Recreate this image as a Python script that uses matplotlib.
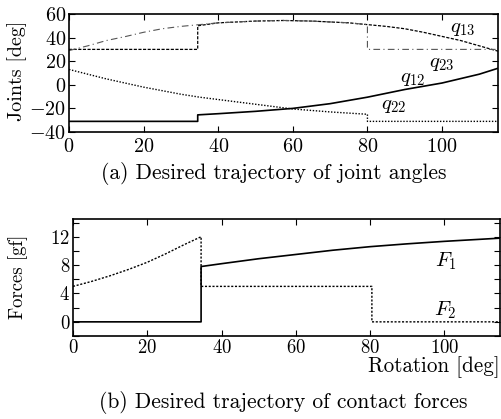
import numpy as np
import matplotlib
matplotlib.use('Agg')
import matplotlib.pyplot as plt
from matplotlib.ticker import MultipleLocator

plt.rcParams['font.family'] = 'cmr10'
plt.rcParams['mathtext.fontset'] = 'cm'
plt.rcParams['axes.formatter.use_mathtext'] = True

# joint angles [deg] vs rotation [deg]
q12_x = [0, 34.5, 34.5, 40, 50, 60, 70, 80, 90, 100, 110, 115]
q12_y = [-31, -31, -25.5, -24.5, -22.5, -20, -16, -10.5, -4, 1.5, 9, 14]
q22_x = [0, 5, 10, 15, 20, 25, 30, 35, 40, 50, 60, 70, 80, 80, 115]
q22_y = [13, 9, 5, 1.5, -2, -5, -8, -10.5, -12.5, -16.5, -20.5, -23, -25, -31, -31]
q13_x = [0, 34.5, 34.5, 40, 50, 57.5, 65, 75, 80, 85, 90, 95, 100, 105, 110, 115]
q13_y = [30, 30, 50, 52.5, 54, 54.5, 54, 52.5, 51, 49.5, 47.5, 44.5, 41, 37.5, 33, 28.5]
q23_x = [0, 5, 10, 15, 20, 25, 30, 35, 40, 50, 57.5, 65, 75, 80, 80, 115]
q23_y = [29, 33, 37.5, 40.8, 44.5, 47.5, 49.5, 51, 52.5, 54, 54.5, 54, 52.5, 51, 30, 30]

# contact forces [gf]
f1_x = [0, 34.5, 34.5, 40, 50, 60, 70, 80, 90, 100, 115]
f1_y = [0, 0, 7.8, 8.2, 8.9, 9.5, 10.1, 10.6, 11.0, 11.35, 11.8]
f2_x = [0, 5, 10, 15, 20, 25, 30, 34.5, 34.5, 80.5, 80.5, 115]
f2_y = [5, 5.7, 6.5, 7.4, 8.4, 9.6, 10.9, 12, 5, 5, 0, 0]

fig = plt.figure(figsize=(5.02, 4.19), dpi=100)
ax1 = fig.add_axes([0.1375, 0.685, 0.992 - 0.1375, 0.9666 - 0.685])
ax2 = fig.add_axes([0.1454, 0.198, 0.996 - 0.1454, 0.4773 - 0.198])

ax1.plot(q12_x, q12_y, color='black', lw=1.2, ls='-')
ax1.plot(q22_x, q22_y, color='black', lw=1.0, ls=(0, (1, 1.2)))
ax1.plot(q13_x, q13_y, color='black', lw=0.9, ls=(0, (2.5, 1.2)))
ax1.plot(q23_x, q23_y, color='#555555', lw=0.8, ls=(0, (6, 3, 1, 3)))
ax1.set_xlim(0, 115)
ax1.set_ylim(-40, 60)
ax1.set_xticks([0, 20, 40, 60, 80, 100])
ax1.set_yticks([-40, -20, 0, 20, 40, 60])
ax1.text(105.5, 47, '$q_{13}$', fontsize=15, ha='center', va='center')
ax1.text(100, 18, '$q_{23}$', fontsize=15, ha='center', va='center')
ax1.text(92, 5, '$q_{12}$', fontsize=15, ha='center', va='center')
ax1.text(87, -18, '$q_{22}$', fontsize=15, ha='center', va='center')

ax2.plot(f1_x, f1_y, color='black', lw=1.2, ls='-')
ax2.plot(f2_x, f2_y, color='black', lw=1.0, ls=(0, (1.5, 1.2)))
ax2.set_xlim(0, 115)
ax2.set_ylim(-2, 14.5)
ax2.set_xticks([0, 20, 40, 60, 80, 100])
ax2.set_yticks([0, 4, 8, 12])
ax2.yaxis.set_minor_locator(MultipleLocator(2))
ax2.text(100.3, 8.5, '$F_1$', fontsize=15, ha='center', va='center')
ax2.text(100.3, 1.7, '$F_2$', fontsize=15, ha='center', va='center')

for ax, fs in [(ax1, 14.5), (ax2, 13.5)]:
    for sp in ax.spines.values():
        sp.set_linewidth(1.2)
    ax.tick_params(which='both', direction='in', top=True, right=True,
                   labelsize=fs, pad=2)
    ax.tick_params(which='major', length=4, width=0.8)
    ax.tick_params(which='minor', length=4, width=0.8)
ax1.tick_params(axis='x', pad=4)

fig.text(17 / 502, 1 - 71 / 419, 'Joints [deg]', rotation=90, fontsize=14.5,
         ha='center', va='center')
fig.text(18 / 502, 1 - 277 / 419, 'Forces [gf]', rotation=90, fontsize=13.5,
         ha='center', va='center')
fig.text(500 / 502, 1 - 367 / 419, 'Rotation [deg]', fontsize=15.2,
         ha='right', va='center')
fig.text(274 / 502, 1 - 173 / 419, '(a) Desired trajectory of joint angles',
         fontsize=15.5, ha='center', va='center')
fig.text(283 / 502, 1 - 402 / 419, '(b) Desired trajectory of contact forces',
         fontsize=15.5, ha='center', va='center')

fig.savefig('out.png', dpi=100)
